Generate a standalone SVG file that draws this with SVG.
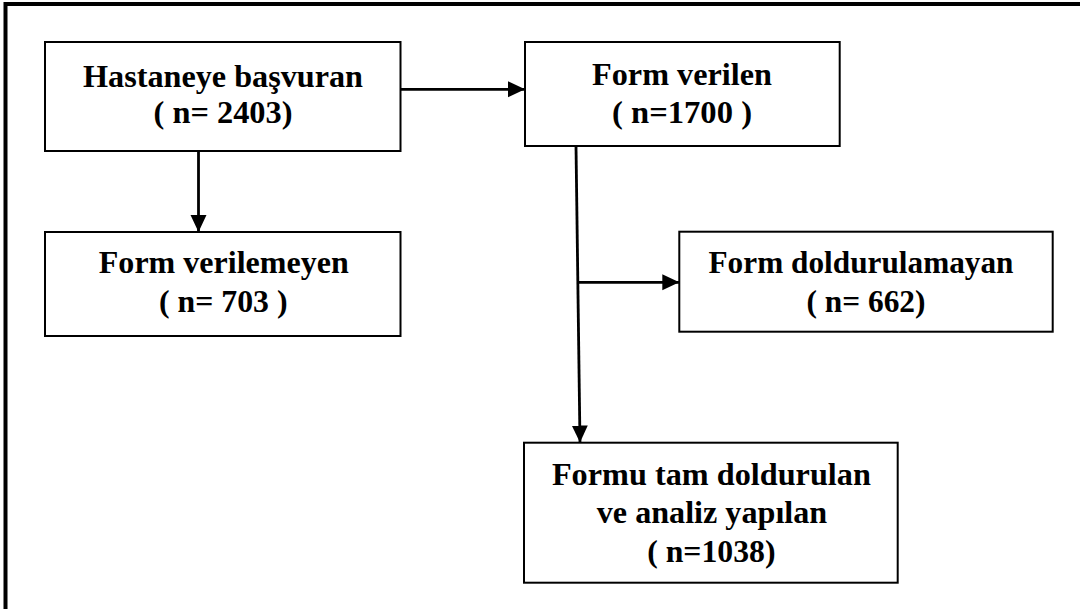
<svg xmlns="http://www.w3.org/2000/svg" width="1080" height="609" viewBox="0 0 1080 609">
<style>
.box{fill:#fff;stroke:#000;stroke-width:2}
.t{font-family:"Liberation Serif","Times New Roman",serif;font-weight:bold;font-size:31px;fill:#000;text-anchor:middle}
.c{stroke:#000;stroke-width:2.8;fill:none}
.frame{stroke:#000;stroke-width:4;fill:none}
</style>
<defs>
<marker id="ah" markerUnits="userSpaceOnUse" markerWidth="18" markerHeight="17" refX="17" refY="8" orient="auto">
<path d="M0,0 L17,8 L0,16 z" fill="#000"/>
</marker>
</defs>
<rect width="1080" height="609" fill="#fff"/>
<path class="frame" d="M5.5,609 V4 H1080"/>
<g id="connectors">
<line class="c" x1="400.5" y1="89.3" x2="525" y2="89.3" marker-end="url(#ah)"/>
<line class="c" x1="198.5" y1="151" x2="198.5" y2="232" marker-end="url(#ah)"/>
<line class="c" x1="576" y1="146" x2="580" y2="442.5" marker-end="url(#ah)"/>
<line class="c" x1="577.8" y1="282.3" x2="679.3" y2="282.3" marker-end="url(#ah)"/>
</g>
<g id="n1">
<rect class="box" x="45" y="42" width="355.5" height="109"/>
<text class="t" x="223" y="87" textLength="280" lengthAdjust="spacingAndGlyphs">Hastaneye başvuran</text>
<text class="t" x="223" y="123" textLength="139" lengthAdjust="spacingAndGlyphs">( n= 2403)</text>
</g>
<g id="n2">
<rect class="box" x="525" y="42" width="314.7" height="104"/>
<text class="t" x="682" y="85" textLength="180" lengthAdjust="spacingAndGlyphs">Form verilen</text>
<text class="t" x="682" y="123" textLength="140" lengthAdjust="spacingAndGlyphs">( n=1700 )</text>
</g>
<g id="n3">
<rect class="box" x="45" y="232" width="355.5" height="104"/>
<text class="t" x="223.8" y="273.3" textLength="250" lengthAdjust="spacingAndGlyphs">Form verilemeyen</text>
<text class="t" x="223.3" y="311.7" textLength="128.5" lengthAdjust="spacingAndGlyphs">( n= 703 )</text>
</g>
<g id="n4">
<rect class="box" x="679.3" y="231.7" width="373.4" height="100"/>
<text class="t" x="861" y="273.3" textLength="305" lengthAdjust="spacingAndGlyphs">Form doldurulamayan</text>
<text class="t" x="866" y="311.7" textLength="119" lengthAdjust="spacingAndGlyphs">( n= 662)</text>
</g>
<g id="n5">
<rect class="box" x="524" y="442.7" width="373.7" height="140"/>
<text class="t" x="711.4" y="485" textLength="319" lengthAdjust="spacingAndGlyphs">Formu tam doldurulan</text>
<text class="t" x="712" y="522.7" textLength="230.5" lengthAdjust="spacingAndGlyphs">ve analiz yapılan</text>
<text class="t" x="711.4" y="561.7" textLength="128.4" lengthAdjust="spacingAndGlyphs">( n=1038)</text>
</g>
</svg>
